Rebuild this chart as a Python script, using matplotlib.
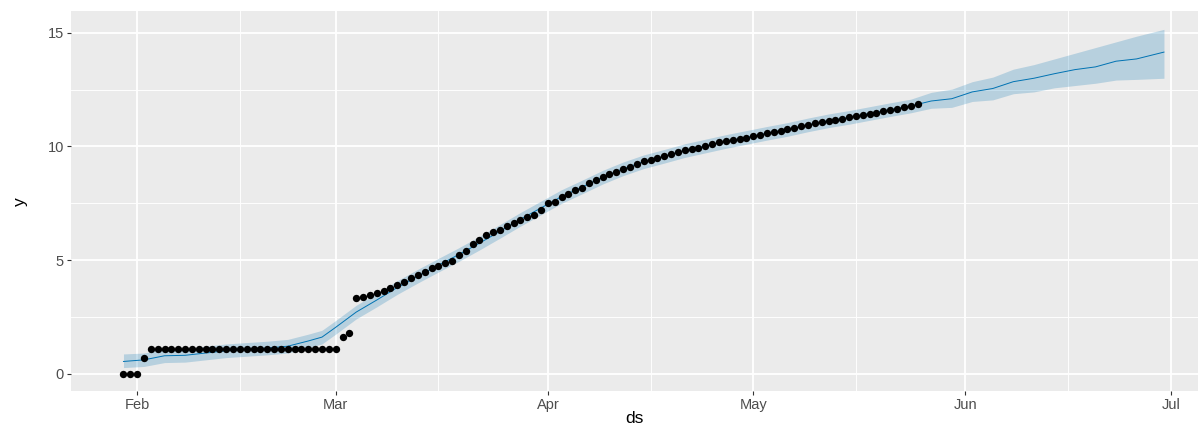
import numpy as np
import pandas as pd
import matplotlib
matplotlib.use("Agg")
import matplotlib.pyplot as plt
import matplotlib.dates as mdates

plt.rcParams['font.family'] = ['Liberation Sans', 'DejaVu Sans']

# observed values (daily, from 2020-01-30)
obs_start = "2020-01-30"
obs_y = [0, 0, 0, 0.69] + [1.10] * 28 + [
    1.61, 1.79, 3.33, 3.40, 3.45, 3.55, 3.66, 3.78, 3.91, 4.04,
    4.20, 4.34, 4.47, 4.66, 4.73, 4.86, 4.96, 5.22, 5.39, 5.70,
    5.87, 6.10, 6.22, 6.35, 6.49, 6.63, 6.75, 6.88, 7.01, 7.20,
    7.50, 7.57, 7.77, 7.93, 8.07, 8.19, 8.38, 8.52, 8.66, 8.80,
    8.90, 9.00, 9.12, 9.25, 9.36, 9.42, 9.50, 9.58, 9.68, 9.76,
    9.83, 9.90, 9.95, 10.03, 10.11, 10.18, 10.23, 10.28, 10.33, 10.38,
    10.45, 10.52, 10.58, 10.64, 10.70, 10.76, 10.82, 10.89, 10.96, 11.03,
    11.08, 11.13, 11.18, 11.23, 11.28, 11.33, 11.38, 11.43, 11.49, 11.55,
    11.61, 11.67, 11.73, 11.79, 11.85]

# forecast (yhat with interval)
fc_dates = ["2020-01-30", "2020-02-02", "2020-02-05", "2020-02-08", "2020-02-11",
            "2020-02-14", "2020-02-17", "2020-02-20", "2020-02-23", "2020-02-26",
            "2020-02-28", "2020-03-01", "2020-03-04", "2020-03-07", "2020-03-10",
            "2020-03-13", "2020-03-16", "2020-03-19", "2020-03-22", "2020-03-25",
            "2020-03-28", "2020-03-31", "2020-04-03", "2020-04-06", "2020-04-09",
            "2020-04-12", "2020-04-15", "2020-04-18", "2020-04-21", "2020-04-24",
            "2020-04-27", "2020-04-30", "2020-05-03", "2020-05-06", "2020-05-09",
            "2020-05-12", "2020-05-15", "2020-05-18", "2020-05-21", "2020-05-24",
            "2020-05-27", "2020-05-30", "2020-06-02", "2020-06-05", "2020-06-08",
            "2020-06-11", "2020-06-14", "2020-06-17", "2020-06-20", "2020-06-23",
            "2020-06-26", "2020-06-30"]
yhat = [0.55, 0.62, 0.80, 0.82, 0.92, 1.02, 1.08, 1.14, 1.22, 1.45,
        1.62, 2.05, 2.72, 3.25, 3.80, 4.30, 4.78, 5.25, 5.75, 6.27,
        6.80, 7.30, 7.80, 8.22, 8.65, 9.02, 9.33, 9.57, 9.82, 10.02,
        10.22, 10.40, 10.58, 10.75, 10.95, 11.13, 11.28, 11.45, 11.62, 11.78,
        12.00, 12.10, 12.40, 12.55, 12.85, 13.00, 13.20, 13.38, 13.50, 13.75,
        13.85, 14.15]
yhat_lower = [0.28, 0.33, 0.50, 0.52, 0.62, 0.72, 0.78, 0.84, 0.92, 1.15,
              1.32, 1.75, 2.42, 2.95, 3.50, 4.00, 4.48, 4.95, 5.45, 5.97,
              6.50, 7.00, 7.50, 7.92, 8.35, 8.72, 9.03, 9.27, 9.52, 9.72,
              9.92, 10.10, 10.28, 10.45, 10.65, 10.83, 10.98, 11.15, 11.32, 11.48,
              11.68, 11.72, 11.98, 12.05, 12.32, 12.40, 12.58, 12.68, 12.78, 12.92,
              12.95, 13.00]
yhat_upper = [0.88, 0.92, 1.10, 1.12, 1.22, 1.32, 1.38, 1.44, 1.52, 1.75,
              1.92, 2.35, 3.02, 3.55, 4.10, 4.60, 5.08, 5.55, 6.05, 6.57,
              7.10, 7.60, 8.10, 8.52, 8.95, 9.32, 9.63, 9.87, 10.12, 10.32,
              10.52, 10.70, 10.88, 11.05, 11.25, 11.43, 11.58, 11.75, 11.92, 12.08,
              12.38, 12.52, 12.85, 13.05, 13.40, 13.60, 13.85, 14.10, 14.35, 14.60,
              14.85, 15.15]

obs_ds = pd.date_range(obs_start, periods=len(obs_y), freq="D")
fc_ds = pd.to_datetime(fc_dates)

fig = plt.figure(figsize=(12.03, 4.29), dpi=100)
ax = fig.add_axes([0.059, 0.088, 0.937, 0.886])
ax.set_facecolor("#EBEBEB")

ax.fill_between(fc_ds, yhat_lower, yhat_upper, color="#0072B2", alpha=0.22, linewidth=0, zorder=2)
ax.plot(fc_ds, yhat, color="#0072B2", linewidth=0.7, zorder=3)
ax.scatter(obs_ds, obs_y, s=28, color="black", linewidths=0, zorder=4)

ax.set_xlim(pd.Timestamp("2020-01-22 08:00"), pd.Timestamp("2020-07-05"))
ax.set_ylim(-0.76, 15.95)

ax.xaxis.set_major_locator(mdates.MonthLocator())
ax.xaxis.set_major_formatter(mdates.DateFormatter("%b"))
ax.xaxis.set_minor_locator(mdates.MonthLocator(bymonthday=16))
ax.set_yticks([0, 5, 10, 15])
ax.set_yticks([2.5, 7.5, 12.5], minor=True)

ax.grid(which="major", color="white", linewidth=1.3)
ax.grid(which="minor", color="white", linewidth=0.65)
ax.set_axisbelow(True)
for s in ax.spines.values():
    s.set_visible(False)

ax.tick_params(which="major", length=3, color="#333333", labelsize=10.5, labelcolor="#4D4D4D", pad=2)
ax.tick_params(which="minor", length=0)

ax.set_xlabel("ds", fontsize=12.5, labelpad=-1)
ax.set_ylabel("y", fontsize=12.5, labelpad=14)

fig.savefig("out.png", dpi=100)
